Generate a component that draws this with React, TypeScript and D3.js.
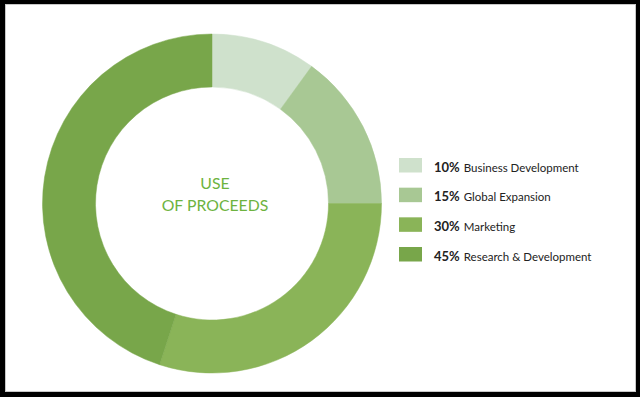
import React from "react";
import * as d3 from "d3";

const categories = ["Business Development", "Global Expansion", "Marketing", "Research & Development"];
const values = [10, 15, 30, 45];
const colors = ["#cfe1cc", "#a8c894", "#8ab458", "#78a64a"];
const titleLines = ["USE", "OF PROCEEDS"];

export default function App() {
  const W = 640, H = 397;
  const cx = 212, cy = 203.5, rOuter = 169.5, rInner = 116.5;
  const pie = d3.pie<number>().sort(null).value((d) => d);
  const arcs = pie(values);
  const arc = d3.arc<d3.PieArcDatum<number>>().innerRadius(rInner).outerRadius(rOuter);
  const legendY = d3.scalePoint<number>().domain(d3.range(values.length)).range([158, 247]);
  const font = "Lato, 'Open Sans', sans-serif";
  return (
    <svg width={W} height={H} style={{ position: "fixed", left: 0, top: 0 }}>
      <rect x={0} y={0} width={W} height={H} fill="#000" />
      <rect x={5.5} y={4.5} width={630} height={387} fill="#fff" stroke="#c8c8c8" strokeWidth={1} />
      <g transform={`translate(${cx},${cy})`}>
        {arcs.map((a, i) => (
          <path key={i} d={arc(a) || ""} fill={colors[i]} stroke={colors[i]} strokeWidth={0.5} />
        ))}
      </g>
      <g fontFamily={font} fill="#6db33f" fontSize={15.8} textAnchor="middle">
        {titleLines.map((t, i) => (
          <text key={i} x={215} y={188.5 + i * 22}>{t}</text>
        ))}
      </g>
      <g fontFamily={font}>
        {values.map((v, i) => {
          const y = legendY(i) as number;
          return (
            <g key={i}>
              <rect x={399} y={y} width={23} height={14.5} fill={colors[i]} />
              <text x={434} y={y + 13.5} fill="#222" fontSize={12}>
                <tspan fontWeight={700} fontSize={13}>{v}%</tspan>
                <tspan dx={4} fontSize={11.5}>{categories[i]}</tspan>
              </text>
            </g>
          );
        })}
      </g>
    </svg>
  );
}
